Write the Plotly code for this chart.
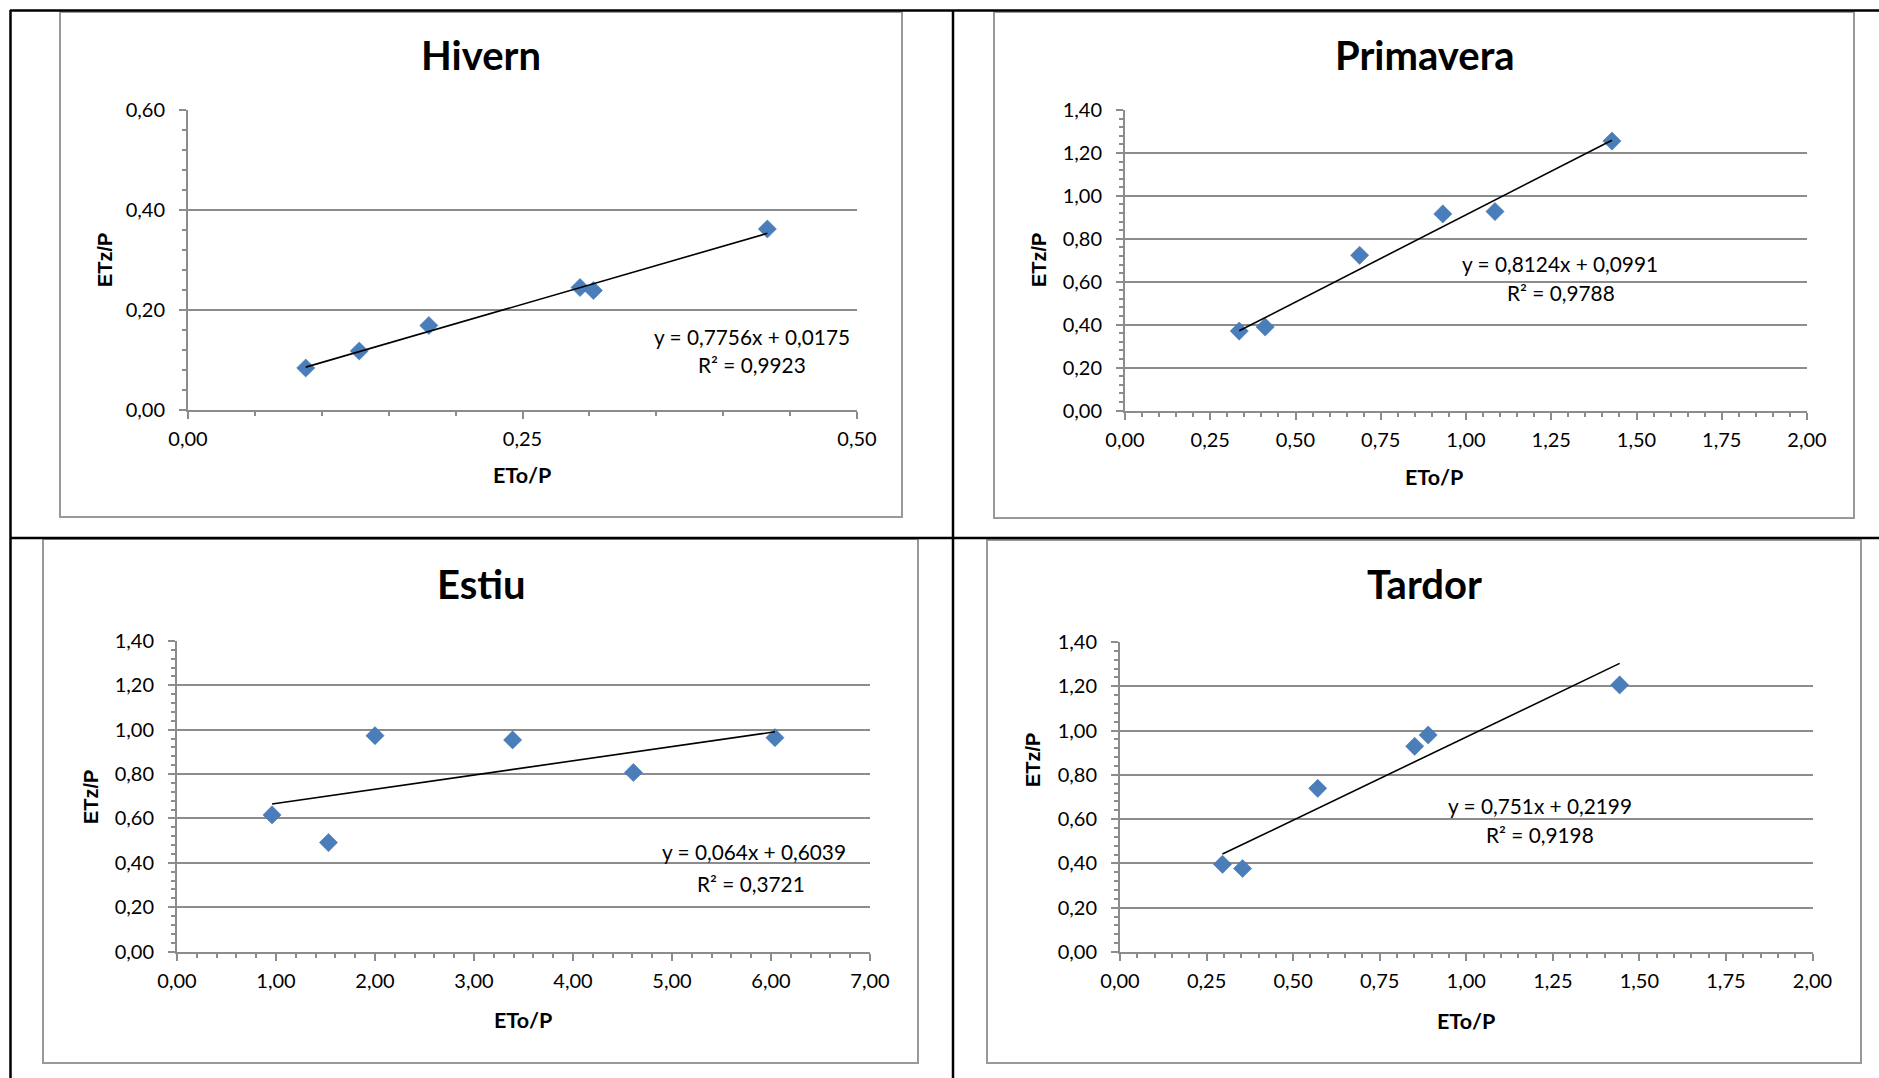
import numpy as np
import plotly.graph_objects as go

# ---------------- data ----------------
titles = ["Hivern", "Primavera", "Estiu", "Tardor"]
x_label = "ETo/P"
y_label = "ETz/P"

hivern_x = [0.088, 0.128, 0.180, 0.293, 0.303, 0.433]
hivern_y = [0.084, 0.118, 0.169, 0.245, 0.239, 0.362]
primavera_x = [0.335, 0.411, 0.688, 0.932, 1.085, 1.428]
primavera_y = [0.370, 0.389, 0.723, 0.916, 0.927, 1.255]
estiu_x = [0.96, 1.53, 2.00, 3.39, 4.61, 6.04]
estiu_y = [0.616, 0.491, 0.973, 0.954, 0.807, 0.964]
tardor_x = [0.296, 0.354, 0.571, 0.851, 0.890, 1.443]
tardor_y = [0.396, 0.377, 0.739, 0.929, 0.980, 1.206]

slopes = [0.7756, 0.8124, 0.064, 0.751]
intercepts = [0.0175, 0.0991, 0.6039, 0.2199]
eq_labels = ["y = 0,7756x + 0,0175", "y = 0,8124x + 0,0991",
             "y = 0,064x + 0,6039", "y = 0,751x + 0,2199"]
r2_labels = ["R² = 0,9923", "R² = 0,9788", "R² = 0,3721", "R² = 0,9198"]

x_max = [0.50, 2.00, 7.00, 2.00]
x_dtick = [0.25, 0.25, 1.0, 0.25]
x_minor = [0.05, 0.05, 0.2, 0.05]
y_max = [0.60, 1.40, 1.40, 1.40]
y_dtick = [0.2, 0.2, 0.2, 0.2]
y_minor = [0.04, 0.04, 0.04, 0.04]

xs = [hivern_x, primavera_x, estiu_x, tardor_x]
ys = [hivern_y, primavera_y, estiu_y, tardor_y]

# ---------------- layout (pixels) ----------------
W, H = 1879, 1078
def px(x): return x / W
def py(y): return 1 - y / H

plot_boxes = [  # x0, x1, ytop, ybottom
    (188, 857, 110, 410),
    (1125, 1807, 110, 410.5),
    (177, 870, 641, 951.5),
    (1120, 1812.5, 642, 952),
]
chart_boxes = [
    (60, 902, 12, 517),
    (994, 1854, 12, 518),
    (43, 918, 539, 1063),
    (987, 1861, 540, 1063),
]
title_pos = [(481, 55), (1425, 55), (481, 584), (1424, 584)]
xtitle_pos = [(522, 475), (1434, 477), (523, 1020), (1466, 1021)]
ytitle_pos = [(105, 260), (1039, 260), (91, 797), (1033, 760)]
eq_pos = [(752, 337), (1560, 263), (754, 851), (1540, 805)]
r2_pos = [(752, 365), (1561, 292), (751, 883), (1540, 834)]

FONT = "Lato"
GRID = "#8c8c8c"
BLUE = "#4A7EBB"

fig = go.Figure()
shapes = []
annotations = []

for i in range(4):
    n = "" if i == 0 else str(i + 1)
    x0, x1, yt, yb = plot_boxes[i]
    fig.add_trace(go.Scatter(
        x=xs[i], y=ys[i], mode="markers",
        marker=dict(symbol="diamond", size=14, color=BLUE,
                    line=dict(width=0.5, color="#3f6fa8")),
        xaxis="x" + n, yaxis="y" + n, showlegend=False, cliponaxis=False))
    tx = np.array([min(xs[i]), max(xs[i])])
    ty = slopes[i] * tx + intercepts[i]
    fig.add_trace(go.Scatter(
        x=tx, y=ty, mode="lines", line=dict(color="black", width=1.6),
        xaxis="x" + n, yaxis="y" + n, showlegend=False))

    common = dict(showline=True, linecolor=GRID, linewidth=2,
                  ticks="outside", tickcolor=GRID, tickwidth=1.5, ticklen=7,
                  tickformat=".2f", zeroline=False, automargin=False,
                  tickfont=dict(family=FONT, size=20, color="black"))
    fig.layout["xaxis" + n] = dict(
        common, domain=[px(x0), px(x1)], range=[0, x_max[i]],
        tick0=0, dtick=x_dtick[i], showgrid=False, anchor="y" + n,
        ticklabelstandoff=3,
        minor=dict(ticks="outside", ticklen=4, tickcolor=GRID,
                   tickwidth=1.5, dtick=x_minor[i], tick0=0, showgrid=False))
    fig.layout["yaxis" + n] = dict(
        common, domain=[py(yb), py(yt)], range=[0, y_max[i]],
        tick0=0, dtick=y_dtick[i], showgrid=True, gridcolor=GRID,
        gridwidth=2, anchor="x" + n, ticklabelstandoff=10,
        minor=dict(ticks="outside", ticklen=4, tickcolor=GRID,
                   tickwidth=1.5, dtick=y_minor[i], tick0=0, showgrid=False))

    bx0, bx1, byt, byb = chart_boxes[i]
    shapes.append(dict(type="rect", xref="paper", yref="paper",
                       x0=px(bx0), x1=px(bx1), y0=py(byb), y1=py(byt),
                       line=dict(color="#999999", width=2), layer="below"))

    annotations.append(dict(text="<b>%s</b>" % titles[i], x=px(title_pos[i][0]),
                            y=py(title_pos[i][1]), xref="paper", yref="paper",
                            showarrow=False, xanchor="center", yanchor="middle",
                            font=dict(family=FONT, size=40, color="black")))
    annotations.append(dict(text="<b>%s</b>" % x_label, x=px(xtitle_pos[i][0]),
                            y=py(xtitle_pos[i][1]), xref="paper", yref="paper",
                            showarrow=False, xanchor="center", yanchor="middle",
                            font=dict(family=FONT, size=21.5, color="black")))
    annotations.append(dict(text="<b>%s</b>" % y_label, x=px(ytitle_pos[i][0]),
                            y=py(ytitle_pos[i][1]), xref="paper", yref="paper",
                            showarrow=False, xanchor="center", yanchor="middle",
                            textangle=-90,
                            font=dict(family="Liberation Sans", size=20, color="black")))
    annotations.append(dict(text=eq_labels[i], x=px(eq_pos[i][0]),
                            y=py(eq_pos[i][1]), xref="paper", yref="paper",
                            showarrow=False, xanchor="center", yanchor="middle",
                            font=dict(family=FONT, size=20.8, color="black")))
    annotations.append(dict(text=r2_labels[i], x=px(r2_pos[i][0]),
                            y=py(r2_pos[i][1]), xref="paper", yref="paper",
                            showarrow=False, xanchor="center", yanchor="middle",
                            font=dict(family=FONT, size=20.8, color="black")))

# table lines (black)
for (ax0, ay0, ax1, ay1) in [(10, 10.5, 1879, 10.5), (10.5, 10, 10.5, 1078),
                             (953, 10, 953, 1078), (10, 538, 1879, 538)]:
    shapes.append(dict(type="line", xref="paper", yref="paper",
                       x0=px(ax0), y0=py(ay0), x1=px(ax1), y1=py(ay1),
                       line=dict(color="black", width=2.5)))

fig.update_layout(width=W, height=H, margin=dict(l=0, r=0, t=0, b=0, pad=0),
                  paper_bgcolor="white", plot_bgcolor="white",
                  separators=",.", shapes=shapes, annotations=annotations,
                  font=dict(family=FONT))

fig.write_html("out.html")
